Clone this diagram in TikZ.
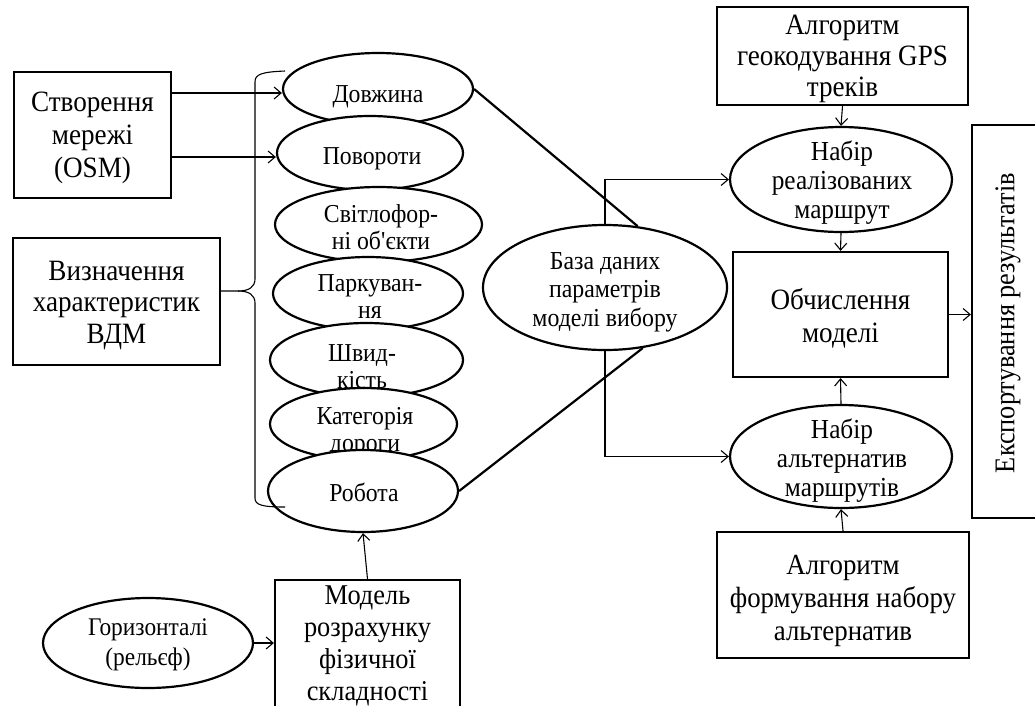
\documentclass[tikz,border=0pt]{standalone}
\usepackage{fontspec}
\setmainfont[FakeStretch=0.92]{Liberation Serif}
\usetikzlibrary{shapes.geometric,arrows.meta}
\tikzset{
  x=1pt, y=-1pt,
  box/.style={draw, line width=2.2pt, inner sep=0pt, fill=white},
  ell/.style={ellipse, draw, line width=2.2pt, inner sep=0pt, fill=white},
  conn/.style={line width=1.1pt, -{Straight Barb[length=7pt,width=12pt,line width=1.1pt]}},
  bracel/.style={line width=1.1pt},
  thickline/.style={line width=2.2pt},
  txt/.style={align=center, inner sep=0pt},
  fE/.style={font=\fontsize{25.8}{27}\selectfont},
  fDB/.style={font=\fontsize{25.9}{28.5}\selectfont},
  fR/.style={font=\fontsize{27.5}{29}\selectfont},
  fB/.style={font=\fontsize{29.5}{33}\selectfont},
  fV/.style={font=\fontsize{29.5}{31.5}\selectfont},
  fM/.style={font=\fontsize{28.7}{32}\selectfont},
  fG/.style={font=\fontsize{29.5}{31}\selectfont},
  fF/.style={font=\fontsize{29.2}{33}\selectfont},
  fH/.style={font=\fontsize{25.4}{30}\selectfont},
}
\begin{document}
\begin{tikzpicture}
\useasboundingbox (0,0) rectangle (1035,705);
\clip (0,0) rectangle (1035,705);

% left boxes
\node[box, minimum width=157pt, minimum height=126pt] (osm) at (92.5,135) {};
\node[txt, fB] (osmt) at (92.5,138) {Створення\\мережі\\(OSM)};
\node[box, minimum width=207pt, minimum height=127pt] (vdm) at (116.5,301.5) {};
\node[txt, fV] (vdmt) at (116.5,305) {Визначення\\характеристик\\ВДМ};

% column of ellipses
\node[ell, minimum width=190pt, minimum height=72pt] (e1) at (378,89) {};
\node[txt, fE] (t1) at (378,97) {Довжина};
\node[ell, minimum width=186pt, minimum height=74pt] (e2) at (370,153) {};
\node[txt, fE] (t2) at (372,159) {Повороти};
\node[ell, minimum width=207pt, minimum height=75pt] (e3) at (378.5,224.5) {};
\node[txt, fE] (t3) at (381,227) {Світлофор-\\ні об\textquotesingle єкти};
\node[ell, minimum width=190pt, minimum height=73pt] (e4) at (368,293.5) {};
\node[txt, fE] (t4) at (370,297) {Паркуван-\\ня};
\node[ell, minimum width=193pt, minimum height=74pt] (e5) at (366.5,360) {};
\node[txt, fE] (t5) at (362,367) {Швид-\\кість};
\node[ell, minimum width=187pt, minimum height=72pt] (e6) at (363.5,424) {};
\node[txt, fE] (t6) at (365,432) {Категорія\\дороги};
\node[ell, minimum width=190pt, minimum height=82pt] (e7) at (363,491) {};
\node[txt, fE] (t7) at (364,492) {Робота};

% brace
\coordinate (bt) at (238,291);
\draw[bracel] (vdm.east |- bt) -- (bt) .. controls (249,291) and (255,287) .. (255,279) -- (255,82) .. controls (255,74) and (262,72) .. (285,71);
\draw[bracel] (bt) .. controls (249,291) and (255,295) .. (255,303) -- (255,498) .. controls (255,505) and (262,507) .. (285,507);

% arrows from OSM
\draw[conn] (osm.east |- 0,93) -- (e1.west |- 0,93);
\draw[conn] (osm.east |- 0,157) -- (e2.west |- 0,157);

% database ellipse
\node[ell, minimum width=244pt, minimum height=125pt] (db) at (605,287.5) {};
\node[txt, fDB] (dbt) at (605,292) {База даних\\параметрів\\моделі вибору};
\draw[thickline] (e1.east) -- (db.62);
\draw[thickline] (e7.east) -- (db.-58);

% right column
\node[box, minimum width=251pt, minimum height=98pt] (geo) at (842.5,56) {};
\node[txt, fG] (geot) at (842.5,59) {Алгоритм\\геокодування GPS\\треків};
\node[ell, minimum width=222pt, minimum height=105pt] (real) at (841,179.5) {};
\node[txt, fR] (realt) at (842,183) {Набір\\реалізованих\\маршрут};
\node[box, minimum width=215pt, minimum height=125pt] (calc) at (840.5,314.5) {};
\node[txt, fB] (calct) at (840.5,318) {Обчислення\\моделі};
\node[ell, minimum width=222pt, minimum height=103pt] (alt) at (841,456.5) {};
\node[txt, fR] (altt) at (842,461) {Набір\\альтернатив\\маршрутів};
\node[box, minimum width=252pt, minimum height=126pt] (form) at (843,595) {};
\node[txt, fF] (formt) at (843,601) {Алгоритм\\формування набору\\альтернатив};
\node[box, minimum width=75pt, minimum height=393pt] (exp) at (1009.5,321.5) {};
\node[txt, font=\fontsize{28.6}{30}\selectfont, rotate=90] (expt) at (1008,323) {Експортування результатів};

\draw[conn] (db.north) |- (real.west);
\draw[conn] (db.south) |- (alt.west);
\draw[conn] (geo.south) -- (real.north);
\draw[conn] (real.south) -- (calc.north);
\draw[conn] (alt.north) -- (calc.south);
\draw[conn] (form.north) -- (alt.south);
\draw[conn] (calc.east) -- (calc.east -| exp.west);

% bottom
\node[ell, minimum width=210pt, minimum height=90pt] (hor) at (148,643) {};
\node[txt, fH] (hort) at (148,645) {Горизонталі\\(рельєф)};
\node[box, minimum width=185pt, minimum height=134pt] (model) at (367.5,647) {};
\node[txt, fM] (modelt) at (367.5,646) {Модель\\розрахунку\\фізичної\\складності};
\draw[conn] (hor.east) -- (hor.east -| model.west);
\draw[conn] (model.north) -- (e7.south);
\end{tikzpicture}
\end{document}
